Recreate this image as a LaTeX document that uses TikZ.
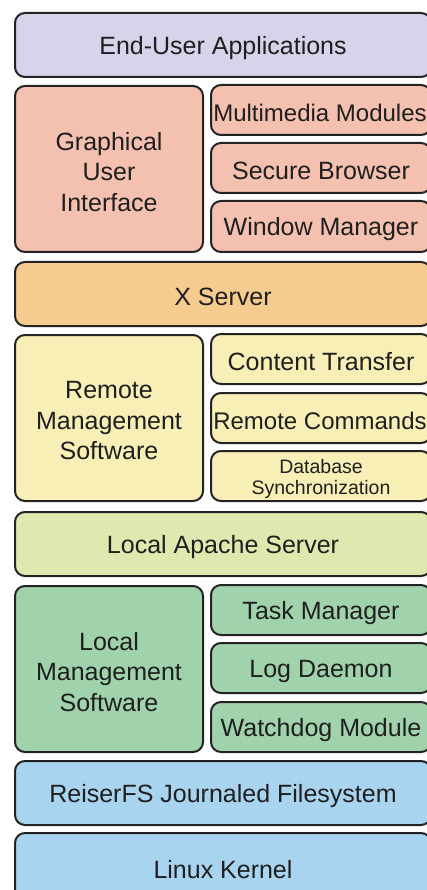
\documentclass[tikz,border=0pt]{standalone}
\usepackage{fontspec}
\setmainfont{Liberation Sans}
\definecolor{cApps}{RGB}{214,211,234}
\definecolor{cGui}{RGB}{244,192,175}
\definecolor{cX}{RGB}{246,203,144}
\definecolor{cRemote}{RGB}{247,239,181}
\definecolor{cApache}{RGB}{222,233,176}
\definecolor{cLocal}{RGB}{160,211,172}
\definecolor{cFs}{RGB}{168,212,240}
\definecolor{cLine}{RGB}{35,35,35}
\tikzset{
  layer/.style={draw=cLine, line width=2pt, rounded corners=10pt, inner sep=0pt},
  layertext/.style={align=center, text=black!88, inner sep=0pt, yshift=-3pt,
    font=\fontsize{25}{30.5}\selectfont},
  narrowtext/.style={font=\fontsize{24}{30}\selectfont, xshift=-1pt},
  smalltext/.style={font=\fontsize{19.5}{21}\selectfont}
}
% box from (x1,y1) to (x2,y2), y measured downward; text placed at its centre
\newcommand{\layerbox}[8][]{%
  \pgfmathsetmacro{\bw}{#5-#3}\pgfmathsetmacro{\bh}{#6-#4}%
  \pgfmathsetmacro{\bx}{(#3+#5)/2}\pgfmathsetmacro{\by}{-(#4+#6)/2}%
  \node[layer,fill=#7,minimum width=\bw pt,minimum height=\bh pt] (#2) at (\bx pt,\by pt) {};
  \node[layertext,#1] (#2-text) at (#2.center) {#8};}
\begin{document}
\begin{tikzpicture}[x=1pt,y=1pt]
\useasboundingbox (0,0) rectangle (427,-890);
\clip (0,0) rectangle (427,-890);
\fill[white] (0,0) rectangle (427,-890);
\layerbox{apps}{15}{13}{431}{77}{cApps}{End-User Applications}
\layerbox{gui}{15}{86}{203}{252}{cGui}{Graphical\\User\\Interface}
\layerbox[narrowtext]{mm}{211}{85}{431}{135}{cGui}{Multimedia Modules}
\layerbox{sb}{211}{143}{431}{193}{cGui}{Secure Browser}
\layerbox{wm}{211}{201}{431}{252}{cGui}{Window Manager}
\layerbox{xs}{15}{262}{431}{326}{cX}{X Server}
\layerbox{rms}{15}{335}{203}{501}{cRemote}{Remote\\Management\\Software}
\layerbox{ct}{211}{334}{431}{384}{cRemote}{Content Transfer}
\layerbox[narrowtext]{rc}{211}{393}{431}{443}{cRemote}{Remote Commands}
\layerbox[smalltext]{db}{211}{451}{431}{501}{cRemote}{Database\\Synchronization}
\layerbox{apache}{15}{512}{431}{576}{cApache}{Local Apache Server}
\layerbox{lms}{15}{586}{203}{752}{cLocal}{Local\\Management\\Software}
\layerbox{tm}{211}{585}{431}{635}{cLocal}{Task Manager}
\layerbox{ld}{211}{643}{431}{693}{cLocal}{Log Daemon}
\layerbox{wd}{211}{702}{431}{752}{cLocal}{Watchdog Module}
\layerbox{fs}{15}{761}{431}{825}{cFs}{ReiserFS Journaled Filesystem}
\layerbox{kernel}{15}{833}{431}{900}{cFs}{Linux Kernel}
\end{tikzpicture}
\end{document}
